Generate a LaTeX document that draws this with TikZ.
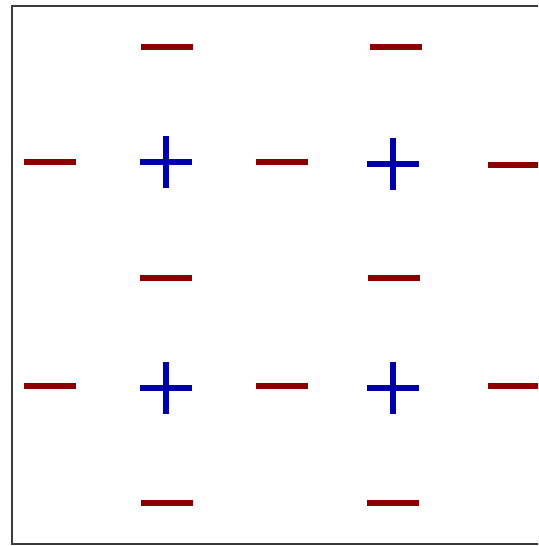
\documentclass[tikz,border=0pt]{standalone}
\definecolor{mred}{RGB}{139,0,0}
\definecolor{mblue}{RGB}{0,0,170}
\definecolor{frame}{RGB}{60,60,60}
\tikzset{
  mn/.pic={\draw[line width=6pt, color=mred] (-26,0) -- (26,0);},
  pl/.pic={\draw[line width=6pt, color=mblue] (-26,0) -- (26,0) (0,-26) -- (0,26);}
}
\begin{document}
\begin{tikzpicture}[x=1pt,y=-1pt]
\useasboundingbox (0,0) rectangle (538,546);
\begin{scope}
\clip (0,0) rectangle (538,546);
\draw[frame, line width=2pt] (12,6) rectangle (545,544);
% row 1
\pic at (167,47) {mn};
\pic at (396,47) {mn};
% row 2
\pic at (50,162) {mn};
\pic at (166,162) {pl};
\pic at (282,162) {mn};
\pic at (393,164) {pl};
\pic at (514,165) {mn};
% row 3
\pic at (166,278) {mn};
\pic at (394,278) {mn};
% row 4
\pic at (50,386) {mn};
\pic at (166,388) {pl};
\pic at (282,386) {mn};
\pic at (393,388) {pl};
\pic at (514,386) {mn};
% row 5
\pic at (167,503) {mn};
\pic at (393,503) {mn};
\end{scope}
\end{tikzpicture}
\end{document}
